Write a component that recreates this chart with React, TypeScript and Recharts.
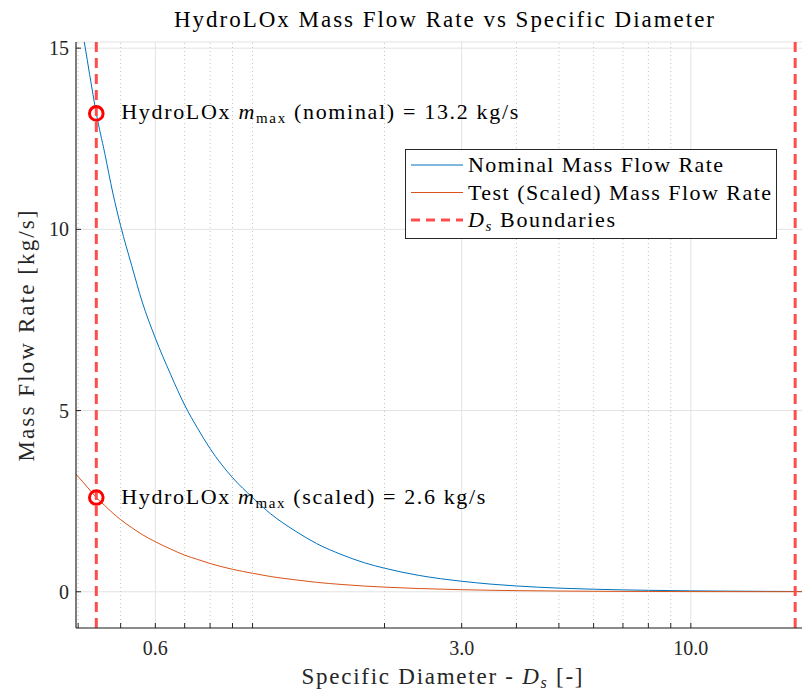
import React from 'react';
import {
  LineChart,
  Line,
  XAxis,
  YAxis,
  CartesianGrid,
  ReferenceLine,
  ReferenceDot,
  Legend
} from 'recharts';

// values
const specificDiameter = [0.395, 0.41, 0.43, 0.44, 0.46, 0.48, 0.5, 0.53, 0.56, 0.6, 0.65, 0.7, 0.75, 0.8, 0.9, 1.0, 1.1, 1.25, 1.4, 1.6, 1.8, 2.0, 2.4, 3.0, 3.5, 4.0, 5.0, 6.0, 7.0, 8.0, 10, 12, 15, 18.9];
const nominalFlow = [16.5, 15.4, 13.9, 13.2, 12.1, 11.0, 10.1, 9.0, 8.0, 7.0, 6.0, 5.15, 4.5, 3.95, 3.15, 2.6, 2.15, 1.68, 1.33, 1.02, 0.8, 0.65, 0.45, 0.29, 0.21, 0.16, 0.1, 0.07, 0.052, 0.04, 0.025, 0.018, 0.011, 0.007];
const scaledFlow = [3.25, 3.03, 2.74, 2.6, 2.38, 2.17, 1.99, 1.77, 1.58, 1.38, 1.18, 1.01, 0.89, 0.78, 0.62, 0.51, 0.42, 0.33, 0.26, 0.2, 0.157, 0.128, 0.089, 0.057, 0.041, 0.031, 0.02, 0.014, 0.01, 0.008, 0.005, 0.0035, 0.0022, 0.0014];

const majorTicks = [0.6, 3, 10];
const minorTicks = [0.4, 0.5, 0.7, 0.8, 0.9, 1, 2, 4, 5, 6, 7, 8, 9];
const yTicks = [0, 5, 10, 15];
const boundaries = [0.44, 17.3];
const maxPoints = [
  { ds: 0.44, m: 13.2, tag: 'nominal', width: 397 },
  { ds: 0.44, m: 2.6, tag: 'scaled', width: 364 }
];
const legendItems = [
  { name: 'Nominal Mass Flow Rate', color: '#0072BD', dashed: false, width: 255 },
  { name: 'Test (Scaled) Mass Flow Rate', color: '#D95319', dashed: false, width: 303 },
  { name: 'Boundaries', color: '#FF4D4D', dashed: true, width: 147 }
];

const data = specificDiameter.map((ds, i) => ({
  ds,
  nominal: nominalFlow[i],
  scaled: scaledFlow[i]
}));

const FONT = "'Liberation Serif', 'Times New Roman', serif";
const AXIS = '#262626';
const allXTicks = [...minorTicks, ...majorTicks].sort((a, b) => a - b);

function XTick(props: any) {
  const { x, y, payload } = props;
  if (!majorTicks.includes(payload.value)) return <g />;
  return (
    <text x={x} y={y} dy={32} textAnchor="middle" fontFamily={FONT} fontSize={20} fill={AXIS}>
      {payload.value.toFixed(1)}
    </text>
  );
}

function MaxMarker(props: any) {
  const { cx, cy, tag, value, width } = props;
  return (
    <g>
      <circle cx={cx} cy={cy} r={6.8} fill="none" stroke="#FF0000" strokeWidth={3} />
      <text
        x={cx + 25}
        y={cy + 6}
        fontFamily={FONT}
        fontSize={22}
        fill="#000"
        textLength={width}
        lengthAdjust="spacing"
      >
        HydroLOx{' '}
        <tspan fontStyle="italic">m</tspan>
        <tspan fontSize={15} dy={4}>max</tspan>
        <tspan dy={-4}>{` (${tag}) = ${value} kg/s`}</tspan>
      </text>
    </g>
  );
}

function LegendBox() {
  return (
    <svg width={372} height={90} style={{ display: 'block' }}>
      <rect x={0.5} y={0.5} width={371} height={89} fill="#fff" stroke={AXIS} strokeWidth={1} />
      {legendItems.map((item, i) => {
        const cy = 16 + i * 27.5;
        return (
          <g key={item.name}>
            <line
              x1={6}
              x2={58}
              y1={cy}
              y2={cy}
              stroke={item.color}
              strokeWidth={item.dashed ? 3 : 1}
              strokeDasharray={item.dashed ? '9 6' : undefined}
            />
            <text
              x={63}
              y={cy + 7}
              fontFamily={FONT}
              fontSize={22}
              fill="#000"
              textLength={item.width}
              lengthAdjust="spacing"
            >
              {item.dashed ? (
                <>
                  <tspan fontStyle="italic">D</tspan>
                  <tspan fontStyle="italic" fontSize={15} dy={4}>s</tspan>
                  <tspan dy={-4}>{' ' + item.name}</tspan>
                </>
              ) : (
                item.name
              )}
            </text>
          </g>
        );
      })}
    </svg>
  );
}

export default function App() {
  return (
    <div style={{ position: 'absolute', left: 0, top: 0, width: 802, height: 693, overflow: 'hidden', background: '#fff' }}>
      <LineChart width={812} height={693} data={data} margin={{ top: 42, right: 0, bottom: 0, left: 0 }}>
        <CartesianGrid vertical={false} stroke="#e3e3e3" strokeWidth={1} />
        {minorTicks.map((t) => (
          <ReferenceLine key={'mg' + t} x={t} stroke="#c4c4c4" strokeDasharray="1 3" strokeWidth={1} />
        ))}
        {majorTicks.map((t) => (
          <ReferenceLine key={'Mg' + t} x={t} stroke="#e3e3e3" strokeWidth={1} />
        ))}
        <XAxis
          dataKey="ds"
          type="number"
          scale="log"
          domain={[0.3955, 18.9]}
          allowDataOverflow
          ticks={allXTicks}
          interval={0}
          tick={<XTick />}
          tickSize={-5}
          tickMargin={0}
          height={65}
          stroke={AXIS}
          axisLine={{ stroke: AXIS, strokeWidth: 1.2 }}
          tickLine={{ stroke: AXIS }}
          label={{
            content: (p: any) => {
              const vb = p.viewBox;
              return (
                <text
                  x={vb.x + vb.width / 2 - 2}
                  y={684}
                  textAnchor="middle"
                  fontFamily={FONT}
                  fontSize={23}
                  fill={AXIS}
                  textLength={281}
                  lengthAdjust="spacing"
                >
                  Specific Diameter -{' '}
                  <tspan fontStyle="italic">D</tspan>
                  <tspan fontStyle="italic" fontSize={16} dy={4}>s</tspan>
                  <tspan dy={-4}> [-]</tspan>
                </text>
              );
            }
          }}
        />
        <XAxis
          xAxisId="top"
          dataKey="ds"
          type="number"
          scale="log"
          orientation="top"
          domain={[0.3955, 18.9]}
          allowDataOverflow
          ticks={allXTicks}
          interval={0}
          tick={() => <g />}
          tickSize={-5}
          height={0}
          axisLine={{ stroke: AXIS, strokeWidth: 1.2 }}
          tickLine={{ stroke: AXIS }}
        />
        <YAxis
          type="number"
          domain={[-1, 15.17]}
          allowDataOverflow
          ticks={yTicks}
          interval={0}
          width={76}
          tickSize={-5}
          tickMargin={12}
          axisLine={{ stroke: AXIS, strokeWidth: 1.2 }}
          tickLine={{ stroke: AXIS }}
          tick={{ fontFamily: FONT, fontSize: 20, fill: AXIS }}
          label={{
            content: () => (
              <g>
                <text
                  x={444}
                  y={27}
                  textAnchor="middle"
                  fontFamily={FONT}
                  fontSize={23}
                  fill="#000"
                  textLength={540}
                  lengthAdjust="spacing"
                >
                  HydroLOx Mass Flow Rate vs Specific Diameter
                </text>
                <text
                  x={0}
                  y={0}
                  transform="translate(34 336) rotate(-90)"
                  textAnchor="middle"
                  fontFamily={FONT}
                  fontSize={23}
                  fill={AXIS}
                  textLength={251}
                  lengthAdjust="spacing"
                >
                  Mass Flow Rate [kg/s]
                </text>
              </g>
            )
          }}
        />
        <Line
          dataKey="nominal"
          name="Nominal Mass Flow Rate"
          type="monotone"
          stroke="#0072BD"
          strokeWidth={1}
          dot={false}
          isAnimationActive={false}
        />
        <Line
          dataKey="scaled"
          name="Test (Scaled) Mass Flow Rate"
          type="monotone"
          stroke="#D95319"
          strokeWidth={1}
          dot={false}
          isAnimationActive={false}
        />
        {boundaries.map((b) => (
          <ReferenceLine key={'b' + b} x={b} stroke="#FF4D4D" strokeWidth={3} strokeDasharray="10 6" />
        ))}
        {maxPoints.map((p) => (
          <ReferenceDot
            key={p.tag}
            x={p.ds}
            y={p.m}
            r={6.8}
            shape={(props: any) => <MaxMarker {...props} tag={p.tag} value={p.m} width={p.width} />}
          />
        ))}
        <Legend
          layout="vertical"
          align="center"
          verticalAlign="middle"
          content={() => <LegendBox />}
          wrapperStyle={{ left: 405, top: 149, width: 372, height: 90 }}
        />
      </LineChart>
    </div>
  );
}
